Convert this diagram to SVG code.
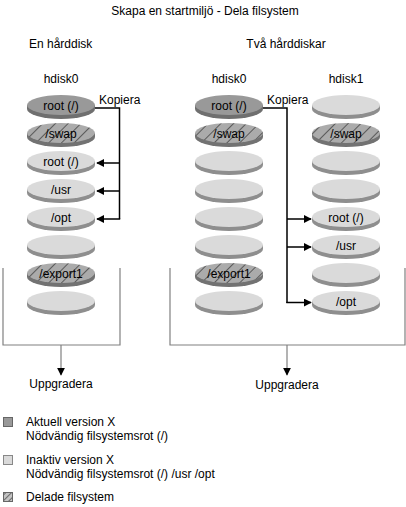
<svg xmlns="http://www.w3.org/2000/svg" width="406" height="507" viewBox="0 0 406 507">
<defs>
<pattern id="hatch" patternUnits="userSpaceOnUse" width="9" height="9" patternTransform="rotate(45)">
<rect width="9" height="9" fill="#ababab"/>
<line x1="0.5" y1="0" x2="0.5" y2="9" stroke="#5a5a5a" stroke-width="1"/>
</pattern>
<pattern id="hatchS" patternUnits="userSpaceOnUse" width="4" height="4" patternTransform="rotate(45)">
<rect width="4" height="4" fill="#c4c4c4"/>
<line x1="0.5" y1="0" x2="0.5" y2="4" stroke="#6a6a6a" stroke-width="1"/>
</pattern>
<marker id="ah" viewBox="0 0 10 10" refX="9" refY="5" markerWidth="8" markerHeight="8" markerUnits="userSpaceOnUse" orient="auto">
<path d="M0,0 L10,5 L0,10 z" fill="#000"/>
</marker>
</defs>
<style>
text{font-family:"Liberation Sans",Arial,sans-serif;font-size:12px;fill:#000}
.c{text-anchor:middle}
.cur .top{fill:#999999}
.cur .rim{fill:#6f6f6f}
.ina .top{fill:#dadada}
.ina .rim{fill:#8e8e8e}
.sh .top{fill:url(#hatch)}
.sh .rim{fill:#727272}
.cn{fill:none;stroke:#000;stroke-width:1.5}
.br{fill:none;stroke:#808080;stroke-width:1.2}
</style>

<text class="c" x="205" y="15">Skapa en startmiljö - Dela filsystem</text>
<text x="29" y="48">En hårddisk</text>
<text class="c" x="286" y="48">Två hårddiskar</text>
<text class="c" x="61" y="83">hdisk0</text>
<text class="c" x="229" y="83">hdisk0</text>
<text class="c" x="346" y="83">hdisk1</text>

<!-- Left hdisk0 -->
<g id="L0" class="disk cur"><path class="rim" d="M27,105 v4 a34,10 0 0 0 68,0 v-4 z"/><ellipse class="top" cx="61" cy="105" rx="34" ry="10"/><text class="c" x="61" y="110">root (/)</text></g>
<g id="L1" class="disk sh"><path class="rim" d="M27,133 v4 a34,10 0 0 0 68,0 v-4 z"/><ellipse class="top" cx="61" cy="133" rx="34" ry="10"/><text class="c" x="61" y="138">/swap</text></g>
<g id="L2" class="disk ina"><path class="rim" d="M27,161 v4 a34,10 0 0 0 68,0 v-4 z"/><ellipse class="top" cx="61" cy="161" rx="34" ry="10"/><text class="c" x="61" y="166">root (/)</text></g>
<g id="L3" class="disk ina"><path class="rim" d="M27,189 v4 a34,10 0 0 0 68,0 v-4 z"/><ellipse class="top" cx="61" cy="189" rx="34" ry="10"/><text class="c" x="61" y="194">/usr</text></g>
<g id="L4" class="disk ina"><path class="rim" d="M27,217 v4 a34,10 0 0 0 68,0 v-4 z"/><ellipse class="top" cx="61" cy="217" rx="34" ry="10"/><text class="c" x="61" y="222">/opt</text></g>
<g id="L5" class="disk ina"><path class="rim" d="M27,245 v4 a34,10 0 0 0 68,0 v-4 z"/><ellipse class="top" cx="61" cy="245" rx="34" ry="10"/></g>
<g id="L6" class="disk sh"><path class="rim" d="M27,273 v4 a34,10 0 0 0 68,0 v-4 z"/><ellipse class="top" cx="61" cy="273" rx="34" ry="10"/><text class="c" x="61" y="278">/export1</text></g>
<g id="L7" class="disk ina"><path class="rim" d="M27,301 v4 a34,10 0 0 0 68,0 v-4 z"/><ellipse class="top" cx="61" cy="301" rx="34" ry="10"/></g>

<!-- Right hdisk0 -->
<g id="A0" class="disk cur"><path class="rim" d="M195,105 v4 a34,10 0 0 0 68,0 v-4 z"/><ellipse class="top" cx="229" cy="105" rx="34" ry="10"/><text class="c" x="229" y="110">root (/)</text></g>
<g id="A1" class="disk sh"><path class="rim" d="M195,133 v4 a34,10 0 0 0 68,0 v-4 z"/><ellipse class="top" cx="229" cy="133" rx="34" ry="10"/><text class="c" x="229" y="138">/swap</text></g>
<g id="A2" class="disk ina"><path class="rim" d="M195,161 v4 a34,10 0 0 0 68,0 v-4 z"/><ellipse class="top" cx="229" cy="161" rx="34" ry="10"/></g>
<g id="A3" class="disk ina"><path class="rim" d="M195,189 v4 a34,10 0 0 0 68,0 v-4 z"/><ellipse class="top" cx="229" cy="189" rx="34" ry="10"/></g>
<g id="A4" class="disk ina"><path class="rim" d="M195,217 v4 a34,10 0 0 0 68,0 v-4 z"/><ellipse class="top" cx="229" cy="217" rx="34" ry="10"/></g>
<g id="A5" class="disk ina"><path class="rim" d="M195,245 v4 a34,10 0 0 0 68,0 v-4 z"/><ellipse class="top" cx="229" cy="245" rx="34" ry="10"/></g>
<g id="A6" class="disk sh"><path class="rim" d="M195,273 v4 a34,10 0 0 0 68,0 v-4 z"/><ellipse class="top" cx="229" cy="273" rx="34" ry="10"/><text class="c" x="229" y="278">/export1</text></g>
<g id="A7" class="disk ina"><path class="rim" d="M195,301 v4 a34,10 0 0 0 68,0 v-4 z"/><ellipse class="top" cx="229" cy="301" rx="34" ry="10"/></g>

<!-- Right hdisk1 -->
<g id="B0" class="disk ina"><path class="rim" d="M312,105 v4 a34,10 0 0 0 68,0 v-4 z"/><ellipse class="top" cx="346" cy="105" rx="34" ry="10"/></g>
<g id="B1" class="disk sh"><path class="rim" d="M312,133 v4 a34,10 0 0 0 68,0 v-4 z"/><ellipse class="top" cx="346" cy="133" rx="34" ry="10"/><text class="c" x="346" y="138">/swap</text></g>
<g id="B2" class="disk ina"><path class="rim" d="M312,161 v4 a34,10 0 0 0 68,0 v-4 z"/><ellipse class="top" cx="346" cy="161" rx="34" ry="10"/></g>
<g id="B3" class="disk ina"><path class="rim" d="M312,189 v4 a34,10 0 0 0 68,0 v-4 z"/><ellipse class="top" cx="346" cy="189" rx="34" ry="10"/></g>
<g id="B4" class="disk ina"><path class="rim" d="M312,217 v4 a34,10 0 0 0 68,0 v-4 z"/><ellipse class="top" cx="346" cy="217" rx="34" ry="10"/><text class="c" x="346" y="222">root (/)</text></g>
<g id="B5" class="disk ina"><path class="rim" d="M312,245 v4 a34,10 0 0 0 68,0 v-4 z"/><ellipse class="top" cx="346" cy="245" rx="34" ry="10"/><text class="c" x="346" y="250">/usr</text></g>
<g id="B6" class="disk ina"><path class="rim" d="M312,273 v4 a34,10 0 0 0 68,0 v-4 z"/><ellipse class="top" cx="346" cy="273" rx="34" ry="10"/></g>
<g id="B7" class="disk ina"><path class="rim" d="M312,301 v4 a34,10 0 0 0 68,0 v-4 z"/><ellipse class="top" cx="346" cy="301" rx="34" ry="10"/><text class="c" x="346" y="306">/opt</text></g>

<!-- Connectors -->
<g id="connectors">
<text x="99" y="104">Kopiera</text>
<text x="267" y="104">Kopiera</text>
<path class="cn" d="M95,108 H119.5 V219"/>
<line class="cn" x1="119.5" y1="163" x2="97" y2="163" marker-end="url(#ah)"/>
<line class="cn" x1="119.5" y1="191" x2="97" y2="191" marker-end="url(#ah)"/>
<line class="cn" x1="120.2" y1="219" x2="97" y2="219" marker-end="url(#ah)"/>
<path class="cn" d="M263,108 H287 V303"/>
<line class="cn" x1="287" y1="219" x2="311" y2="219" marker-end="url(#ah)"/>
<line class="cn" x1="287" y1="247" x2="311" y2="247" marker-end="url(#ah)"/>
<line class="cn" x1="286.3" y1="302.5" x2="311" y2="302.5" marker-end="url(#ah)"/>
<path class="br" d="M3,268 V345 H120 V268"/>
<path class="br" d="M170,268 V345 H405 V268"/>
<line class="br" x1="61" y1="345" x2="61" y2="375" marker-end="url(#ah)"/>
<line class="br" x1="287" y1="345" x2="287" y2="375" marker-end="url(#ah)"/>
</g>

<text class="c" x="61" y="388">Uppgradera</text>
<text class="c" x="287" y="389">Uppgradera</text>

<!-- Legend -->
<g id="legend">
<rect x="3.5" y="417.5" width="9" height="9" fill="#999999" stroke="#666"/>
<text x="26" y="426">Aktuell version X</text>
<text x="26" y="440">Nödvändig filsystemsrot (/)</text>
<rect x="3.5" y="455.5" width="9" height="9" fill="#dadada" stroke="#888"/>
<text x="26" y="464">Inaktiv version X</text>
<text x="26" y="478">Nödvändig filsystemsrot (/) /usr /opt</text>
<rect x="3.5" y="492.5" width="9" height="9" fill="url(#hatchS)" stroke="#666"/>
<text x="26" y="501">Delade filsystem</text>
</g>
</svg>
